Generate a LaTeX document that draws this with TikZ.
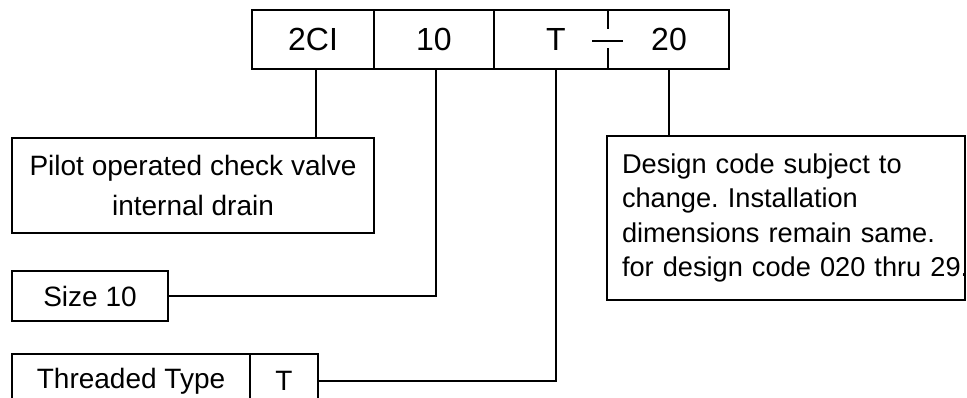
\documentclass[tikz,border=0pt]{standalone}
\usepackage{fontspec}
\setmainfont{Liberation Sans}
\frenchspacing
\begin{document}
\begin{tikzpicture}[x=1pt,y=-1pt,line width=1.5pt,
        cell/.style={draw,minimum height=59pt,inner sep=0pt,font=\fontsize{32}{38}\selectfont},
        digit/.style={inner sep=0pt,font=\fontsize{32}{38}\selectfont},
        tag/.style={draw,inner sep=0pt,font=\fontsize{28}{34.5}\selectfont}]
    \useasboundingbox (0,0) rectangle (967,397);
    \node[cell,minimum width=122pt] (series) at (313,39.5) {2CI};
    \node[cell,minimum width=120pt] (size) at (434,39.5) {10};
    \node[cell,minimum width=235pt] (tail) at (611.5,39.5) {};
    \node[digit] (port) at (556,39.5) {T};
    \node[digit] (design) at (669,39.5) {20};
    \draw (608,10) -- (608,29) (608,48) -- (608,69) (592,41) -- (623,41);

    \node[tag,minimum width=362pt,minimum height=95pt,align=center,font=\fontsize{28}{40}\selectfont] (pilot) at (193,185.5) {Pilot operated check valve\\internal drain};
    \node[tag,minimum width=156pt,minimum height=50pt] (sizebox) at (90,296) {Size 10};
    \node[tag,minimum width=238pt,minimum height=54pt] (thread) at (131,381) {Threaded Type};
    \node[tag,minimum width=68pt,minimum height=54pt] (threadcode) at (284,381) {T};
    \node[tag,text width=328pt,inner xsep=15pt,minimum height=164pt,align=left,font=\fontsize{27.2}{34.5}\selectfont] (note) at (786,218) {Design code subject to\\change. Installation\\dimensions remain same.\\\mbox{for design code 020 thru 29.}};

    \draw ([xshift=3pt]series.south |- tail.south) -- ([xshift=3pt]series.south |- pilot.north);
    \draw ([xshift=2pt]size.south |- tail.south) |- (sizebox.east);
    \draw (port.south |- tail.south) |- (threadcode.east);
    \draw (design.south |- tail.south) -- (design.south |- note.north);
\end{tikzpicture}
\end{document}
